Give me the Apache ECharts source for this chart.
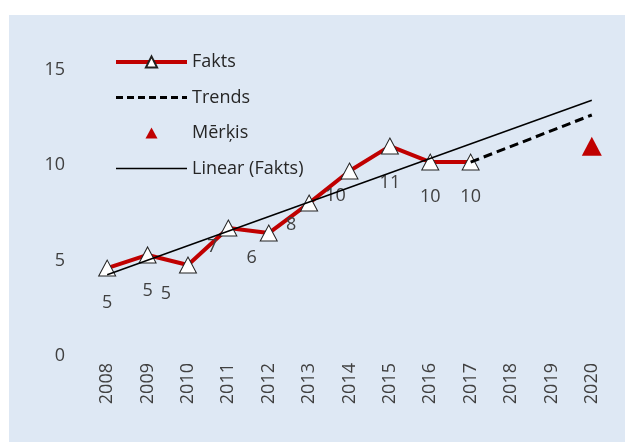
<!DOCTYPE html>
<html>
<head>
<meta charset="utf-8">
<script src="https://cdn.jsdelivr.net/npm/echarts@6/dist/echarts.min.js"></script>
<style>
html,body{margin:0;padding:0;background:#ffffff;}
#c{width:625px;height:442px;}
</style>
</head>
<body>
<div id="c"></div>
<script>
// ---- data ----
const years = ['2008','2009','2010','2011','2012','2013','2014','2015','2016','2017','2018','2019','2020'];
const fakts = [4.61, 5.30, 4.77, 6.71, 6.45, 8.02, 9.70, 11.01, 10.17, 10.17, null, null, null];
const trends = [null, null, null, null, null, null, null, null, null, 10.17, null, null, 12.64];
const merkis = [null, null, null, null, null, null, null, null, null, null, null, null, 11.0];
const linearFakts = [4.26, null, null, null, null, null, null, null, null, null, null, null, 13.41];
const yTicks = [0, 5, 10, 15];
const seriesNames = ['Fakts', 'Trends', 'Mērķis', 'Linear (Fakts)'];

// ---- label placement (style) ----
const labelOffsets = [[0,35],[0,36],[-22,29],[-16,19],[-17,25],[-18,22],[-14,25],[0,37],[0,35],[0,35]];

const FONT = '"Open Sans", "Noto Sans", sans-serif';
const TXT = '#404040';

const chart = echarts.init(document.getElementById('c'), null, {renderer: 'canvas'});

const faktsData = fakts.map((v, i) => v == null ? null : {
  value: v,
  label: { offset: labelOffsets[i] }
});

chart.setOption({
  animation: false,
  backgroundColor: '#ffffff',
  textStyle: { fontFamily: FONT },
  graphic: [{
    type: 'rect', left: 9, top: 15, silent: true, z: -10,
    shape: { width: 616, height: 427 },
    style: { fill: '#dee8f4' }
  }],
  grid: { left: 87, right: 13, top: 70, bottom: 86, containLabel: false },
  legend: {
    orient: 'vertical',
    left: 114,
    top: 53,
    padding: 0,
    itemWidth: 71,
    itemHeight: 14,
    itemGap: 17.5,
    symbolKeepAspect: true,
    data: [
      { name: seriesNames[0], lineStyle: { color: '#c00000', width: 4 } },
      { name: seriesNames[1], itemStyle: { opacity: 0 }, lineStyle: { color: '#000000', width: 3, type: [7, 4] } },
      { name: seriesNames[2], icon: 'path://M0,0 M0,14 M0,12.5 L6,1.5 L12,12.5 Z', itemStyle: { color: '#c00000' } },
      { name: seriesNames[3], itemStyle: { opacity: 0 }, lineStyle: { color: '#000000', width: 1.5 } }
    ],
    textStyle: { fontSize: 18, color: '#262626', fontFamily: FONT }
  },
  xAxis: {
    type: 'category',
    data: years,
    boundaryGap: true,
    axisLine: { show: false },
    axisTick: { show: false },
    splitLine: { show: false },
    axisLabel: { rotate: 90, margin: 7, fontSize: 18, color: TXT, fontFamily: FONT }
  },
  yAxis: {
    type: 'value',
    min: yTicks[0],
    max: yTicks[yTicks.length - 1],
    interval: yTicks[1] - yTicks[0],
    axisLine: { show: false },
    axisTick: { show: false },
    splitLine: { show: false },
    axisLabel: { margin: 22, fontSize: 18, color: TXT, fontFamily: FONT }
  },
  series: [
    {
      name: seriesNames[0],
      type: 'line',
      data: faktsData,
      z: 3,
      symbol: 'triangle',
      symbolSize: [17, 16],
      showAllSymbol: true,
      lineStyle: { color: '#c00000', width: 4 },
      itemStyle: { color: '#ffffff', borderColor: '#222222', borderWidth: 1 },
      label: {
        show: true,
        position: 'inside',
        fontSize: 18,
        color: TXT,
        fontFamily: FONT,
        formatter: p => String(Math.round(p.value))
      }
    },
    {
      name: seriesNames[1],
      type: 'line',
      data: trends,
      connectNulls: true,
      symbol: 'none',
      z: 4,
      lineStyle: { color: '#000000', width: 3, type: [9, 5] },
      itemStyle: { color: '#000000' }
    },
    {
      name: seriesNames[2],
      type: 'scatter',
      data: merkis,
      symbol: 'triangle',
      symbolSize: [20, 19],
      itemStyle: { color: '#c00000', opacity: 1 }
    },
    {
      name: seriesNames[3],
      type: 'line',
      data: linearFakts,
      connectNulls: true,
      symbol: 'none',
      z: 5,
      lineStyle: { color: '#000000', width: 1.5 },
      itemStyle: { color: '#000000' }
    }
  ]
});
</script>
</body>
</html>
